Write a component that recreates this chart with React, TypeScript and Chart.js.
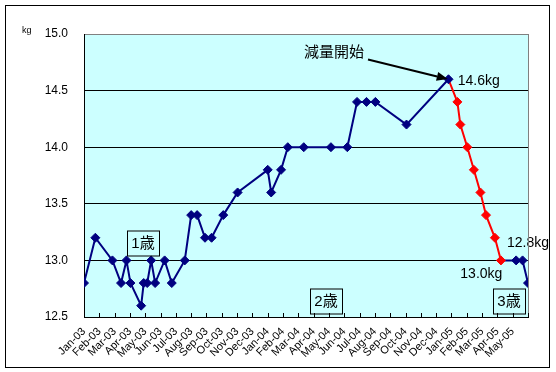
import React, { useEffect, useRef } from 'react';
import { Chart, registerables } from 'chart.js';

Chart.register(...registerables);

// ---- data ----
const xTickLabels = [
  'Jan-03', 'Feb-03', 'Mar-03', 'Apr-03', 'May-03', 'Jun-03', 'Jul-03', 'Aug-03', 'Sep-03', 'Oct-03', 'Nov-03', 'Dec-03',
  'Jan-04', 'Feb-04', 'Mar-04', 'Apr-04', 'May-04', 'Jun-04', 'Jul-04', 'Aug-04', 'Sep-04', 'Oct-04', 'Nov-04', 'Dec-04',
  'Jan-05', 'Feb-05', 'Mar-05', 'Apr-05', 'May-05',
];

const blueDates = [
  '2003-01-01', '2003-01-24', '2003-02-25', '2003-03-14', '2003-03-25', '2003-04-02', '2003-04-23', '2003-04-28',
  '2003-05-05', '2003-05-13', '2003-05-21', '2003-06-09', '2003-06-23', '2003-07-19', '2003-08-01', '2003-08-13',
  '2003-08-29', '2003-09-11', '2003-10-04', '2003-11-02', '2004-01-01', '2004-01-08', '2004-01-28', '2004-02-10',
  '2004-03-12', '2004-05-05', '2004-06-07', '2004-06-26', '2004-07-15', '2004-08-02', '2004-10-03', '2004-12-26',
];
const blueWeights = [
  12.8, 13.2, 13.0, 12.8, 13.0, 12.8, 12.6, 12.8,
  12.8, 13.0, 12.8, 13.0, 12.8, 13.0, 13.4, 13.4,
  13.2, 13.2, 13.4, 13.6, 13.8, 13.6, 13.8, 14.0,
  14.0, 14.0, 14.0, 14.4, 14.4, 14.4, 14.2, 14.6,
];

const redDates = [
  '2004-12-26', '2005-01-13', '2005-01-19', '2005-02-02', '2005-02-14', '2005-02-26', '2005-03-09', '2005-03-27', '2005-04-08',
];
const redWeights = [14.6, 14.4, 14.2, 14.0, 13.8, 13.6, 13.4, 13.2, 13.0];

const tailDates = ['2005-04-08', '2005-05-08', '2005-05-21', '2005-06-01'];
const tailWeights = [13.0, 13.0, 13.0, 12.8];

const ageLabels = ['1歳', '2歳', '3歳'];
const weightLabels = ['14.6kg', '13.0kg', '12.8kg'];
const startLabel = '減量開始';

// ---- annotation placement (data coordinates: months since Jan-03, kg) ----
const ageBoxPos = [
  { x: 3.87, y: 13.15 },
  { x: 15.8, y: 12.64 },
  { x: 27.73, y: 12.64 },
];
const weightLabelPos = [
  { x: 24.41, y: 14.585 },
  { x: 24.58, y: 12.879 },
  { x: 27.63, y: 13.155 },
];
const startLabelPos = { x: 14.37, y: 14.83 };
const arrowFrom = { x: 18.55, y: 14.774 };
const arrowTo = { x: 23.76, y: 14.602 };

function toMonths(d: string): number {
  const [y, m, day] = d.split('-').map(Number);
  const dim = new Date(y, m, 0).getDate();
  return (y - 2003) * 12 + (m - 1) + (day - 1) / dim;
}

function pts(dates: string[], vals: number[]) {
  return dates.map((d, i) => ({ x: toMonths(d), y: vals[i] }));
}

const NAVY = '#000080';
const RED = '#FF0000';
const JP_FONT = '"Liberation Sans", "Noto Sans CJK JP", sans-serif';

const decorPlugin = {
  id: 'decor',
  beforeDraw(chart: any) {
    const { ctx, chartArea: a } = chart;
    ctx.save();
    ctx.fillStyle = '#FFFFFF';
    ctx.fillRect(0, 0, chart.width, chart.height);
    ctx.fillStyle = '#CCFFFF';
    ctx.fillRect(a.left, a.top, a.right - a.left, a.bottom - a.top);
    ctx.restore();
  },
  afterDatasetsDraw(chart: any) {
    const { ctx } = chart;
    const xs = chart.scales.x;
    const ys = chart.scales.y;
    const px = (v: number) => xs.getPixelForValue(v);
    const py = (v: number) => ys.getPixelForValue(v);
    ctx.save();
    // age boxes
    ctx.font = `15px ${JP_FONT}`;
    ctx.textAlign = 'center';
    ctx.textBaseline = 'middle';
    ageLabels.forEach((t, i) => {
      const cx = Math.round(px(ageBoxPos[i].x));
      const cy = Math.round(py(ageBoxPos[i].y));
      const w = 32, h = 25;
      ctx.fillStyle = '#CCFFFF';
      ctx.fillRect(cx - w / 2, cy - h / 2, w, h);
      ctx.strokeStyle = '#000';
      ctx.lineWidth = 1;
      ctx.strokeRect(cx - w / 2 + 0.5, cy - h / 2 + 0.5, w, h);
      ctx.fillStyle = '#000';
      ctx.fillText(t, cx, cy + 1);
    });
    // weight labels
    ctx.font = `14px ${JP_FONT}`;
    ctx.textAlign = 'left';
    weightLabels.forEach((t, i) => {
      ctx.fillStyle = '#000';
      ctx.fillText(t, px(weightLabelPos[i].x), py(weightLabelPos[i].y));
    });
    // start label
    ctx.font = `15px ${JP_FONT}`;
    ctx.fillText(startLabel, px(startLabelPos.x), py(startLabelPos.y));
    // arrow
    const x1 = px(arrowFrom.x), y1 = py(arrowFrom.y);
    const x2 = px(arrowTo.x), y2 = py(arrowTo.y);
    const ang = Math.atan2(y2 - y1, x2 - x1);
    const hl = 11, hw = 4.5;
    const bx = x2 - hl * Math.cos(ang), by = y2 - hl * Math.sin(ang);
    ctx.strokeStyle = '#000';
    ctx.lineWidth = 2;
    ctx.beginPath();
    ctx.moveTo(x1, y1);
    ctx.lineTo(bx, by);
    ctx.stroke();
    ctx.fillStyle = '#000';
    ctx.beginPath();
    ctx.moveTo(x2, y2);
    ctx.lineTo(bx + hw * Math.sin(ang), by - hw * Math.cos(ang));
    ctx.lineTo(bx - hw * Math.sin(ang), by + hw * Math.cos(ang));
    ctx.closePath();
    ctx.fill();
    ctx.restore();
  },
  afterDraw(chart: any) {
    const { ctx, chartArea: a } = chart;
    const xs = chart.scales.x;
    ctx.save();
    // right border of plot (gray)
    ctx.strokeStyle = '#808080';
    ctx.lineWidth = 1;
    ctx.beginPath();
    ctx.moveTo(Math.round(a.right) + 0.5, a.top);
    ctx.lineTo(Math.round(a.right) + 0.5, a.bottom);
    ctx.stroke();
    // inner tick marks on x axis
    ctx.strokeStyle = '#000';
    ctx.beginPath();
    xs.ticks.forEach((t: any) => {
      const x = Math.round(xs.getPixelForValue(t.value)) + 0.5;
      ctx.moveTo(x, Math.round(a.bottom));
      ctx.lineTo(x, Math.round(a.bottom) - 4);
    });
    ctx.stroke();
    // kg unit label
    ctx.fillStyle = '#000';
    ctx.font = `9px ${JP_FONT}`;
    ctx.textAlign = 'left';
    ctx.textBaseline = 'middle';
    ctx.fillText('kg', 22, 31);
    // outer border
    ctx.strokeStyle = '#000';
    ctx.strokeRect(5.5, 5.5, 544, 362);
    ctx.restore();
  },
};

export default function App() {
  const ref = useRef<HTMLCanvasElement>(null);
  useEffect(() => {
    if (!ref.current) return;
    const pointRadius = (c: any) => (c.dataIndex === 0 ? 0 : 4.5);
    const chart = new Chart(ref.current, {
      type: 'line',
      data: {
        datasets: [
          {
            data: pts(blueDates, blueWeights),
            borderColor: NAVY,
            backgroundColor: NAVY,
            borderWidth: 2,
            pointStyle: 'rectRot',
            pointRadius: 4.5,
            pointBorderWidth: 1,
            tension: 0,
          },
          {
            data: pts(redDates, redWeights),
            borderColor: RED,
            backgroundColor: RED,
            borderWidth: 2,
            pointStyle: 'rectRot',
            pointRadius,
            pointBorderWidth: 1,
            tension: 0,
          },
          {
            data: pts(tailDates, tailWeights),
            borderColor: NAVY,
            backgroundColor: NAVY,
            borderWidth: 2,
            pointStyle: 'rectRot',
            pointRadius,
            pointBorderWidth: 1,
            tension: 0,
          },
        ],
      },
      options: {
        responsive: false,
        animation: false,
        devicePixelRatio: 1,
        layout: { padding: { left: 0, top: 34, right: 28, bottom: 0 } },
        plugins: { legend: { display: false }, tooltip: { enabled: false } },
        scales: {
          x: {
            type: 'linear',
            min: 0,
            max: 29,
            afterFit: (s: any) => { s.height = 55; },
            afterBuildTicks: (s: any) => {
              s.ticks = Array.from({ length: 30 }, (_, i) => ({ value: i }));
            },
            ticks: {
              autoSkip: false,
              minRotation: 45,
              maxRotation: 45,
              padding: 8,
              color: '#000',
              font: { family: JP_FONT, size: 11 },
              callback: (v: any) => xTickLabels[v] ?? '',
            },
            grid: { display: false, drawTicks: false },
            border: { display: true, color: '#000', width: 1 },
          },
          y: {
            min: 12.5,
            max: 15,
            afterFit: (s: any) => { s.width = 84; },
            ticks: {
              stepSize: 0.5,
              padding: 16,
              color: '#000',
              font: { family: JP_FONT, size: 12 },
              callback: (v: any) => Number(v).toFixed(1),
            },
            grid: {
              drawTicks: false,
              color: (c: any) => (c.tick && c.tick.value === 15 ? '#808080' : '#000'),
              lineWidth: 1,
            },
            border: { display: true, color: '#000', width: 1 },
          },
        },
      },
      plugins: [decorPlugin],
    } as any);
    return () => chart.destroy();
  }, []);
  return (
    <div style={{ position: 'absolute', left: 0, top: 0, width: 556, height: 372 }}>
      <canvas ref={ref} width={556} height={372} style={{ display: 'block' }} />
    </div>
  );
}
